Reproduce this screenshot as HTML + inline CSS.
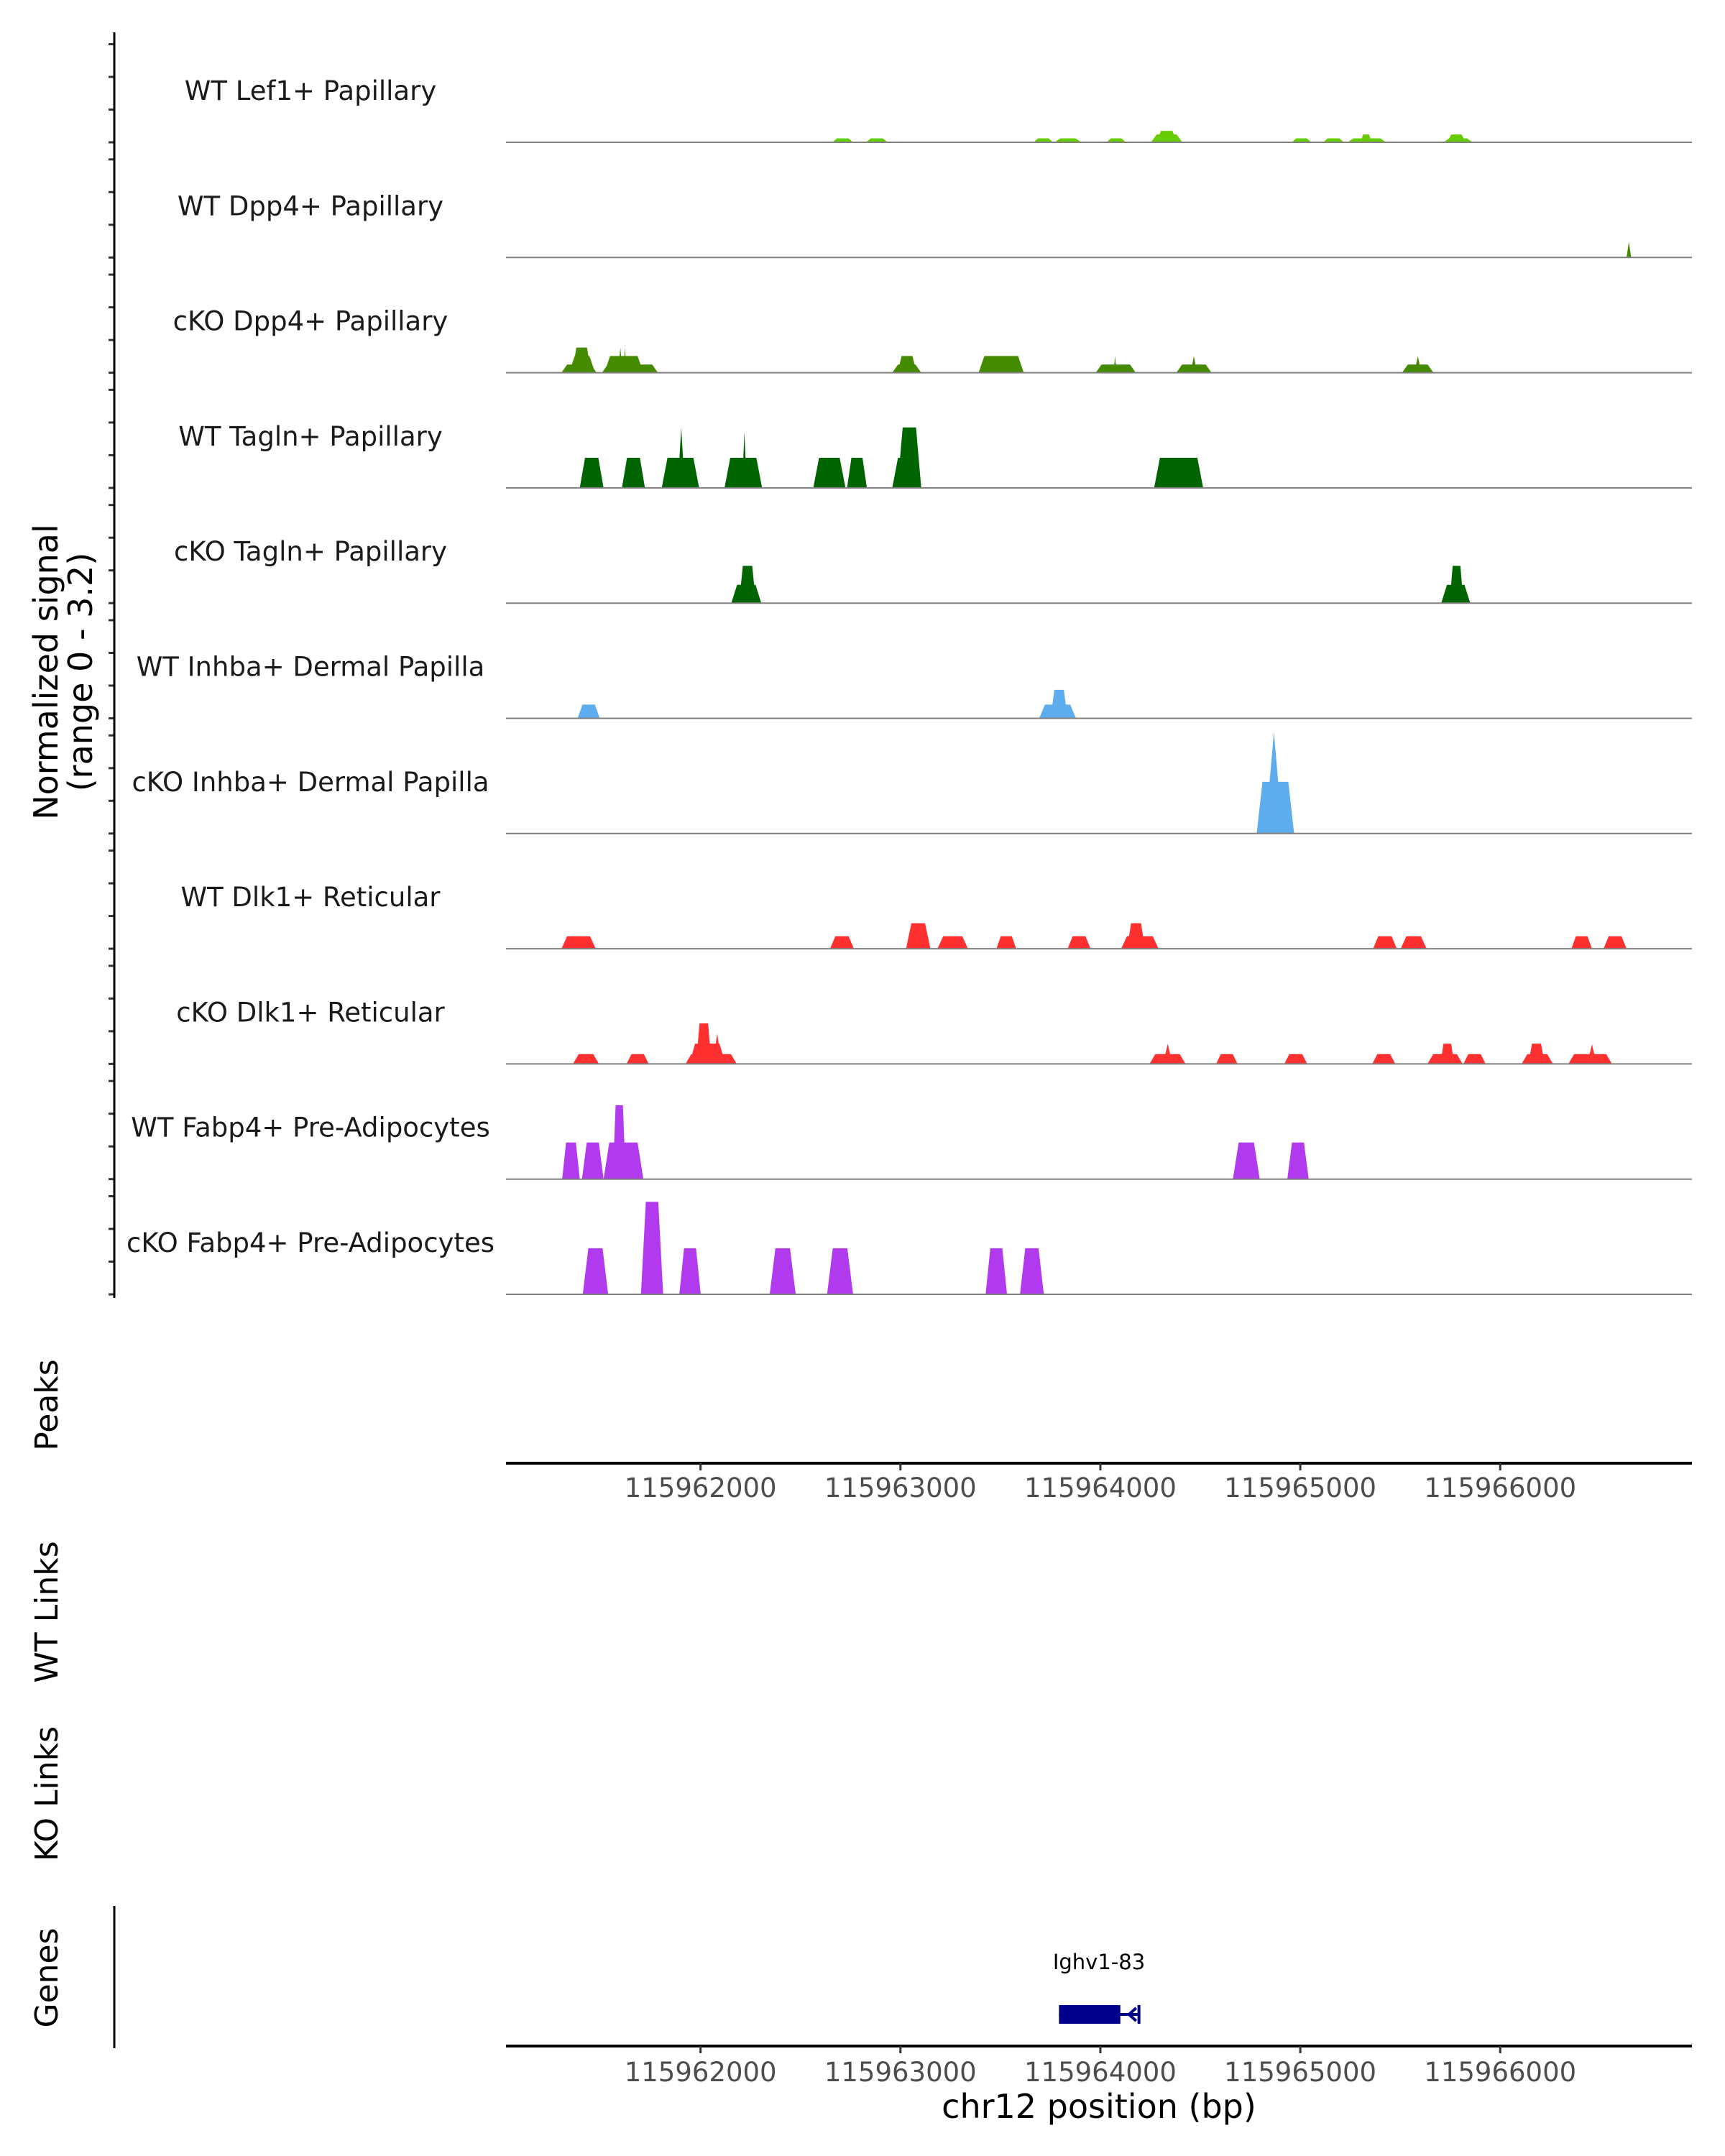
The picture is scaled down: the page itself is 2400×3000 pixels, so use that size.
<!DOCTYPE html>
<html><head><meta charset="utf-8"><style>
html,body{margin:0;padding:0;background:#fff;}
svg{display:block;font-family:"DejaVu Sans","Liberation Sans",sans-serif;}
</style></head><body>
<svg id="chart" width="2400" height="3000" viewBox="0 0 2400 3000" xmlns="http://www.w3.org/2000/svg">
<rect width="2400" height="3000" fill="#fff"/>
<g id="tracks"></g>
<g id="axes"></g>
<text transform="translate(80,935) rotate(-90)" text-anchor="middle" font-size="46" fill="#000">Normalized signal</text>
<text transform="translate(128,935) rotate(-90)" text-anchor="middle" font-size="46" fill="#000">(range 0 - 3.2)</text>
<text transform="translate(80,1955) rotate(-90)" text-anchor="middle" font-size="44" fill="#000">Peaks</text>
<text transform="translate(80,2243) rotate(-90)" text-anchor="middle" font-size="44" fill="#000">WT Links</text>
<text transform="translate(80,2496) rotate(-90)" text-anchor="middle" font-size="44" fill="#000">KO Links</text>
<text transform="translate(80,2752) rotate(-90)" text-anchor="middle" font-size="44" fill="#000">Genes</text>
<line x1="159" y1="2652" x2="159" y2="2850" stroke="#000" stroke-width="3"/>
<text x="1529" y="2947" text-anchor="middle" font-size="46" fill="#000">chr12 position (bp)</text>
<g id="gene"></g>
</svg>
<script>
const regionBase = 115961000;
const domainStart = 27, domainEnd = 5959;
const trackNames = ["WT Lef1+ Papillary","WT Dpp4+ Papillary","cKO Dpp4+ Papillary","WT Tagln+ Papillary","cKO Tagln+ Papillary","WT Inhba+ Dermal Papilla","cKO Inhba+ Dermal Papilla","WT Dlk1+ Reticular","cKO Dlk1+ Reticular","WT Fabp4+ Pre-Adipocytes","cKO Fabp4+ Pre-Adipocytes"];
const trackColors = ["#66cc00","#458b00","#458b00","#006400","#006400","#5eadee","#5eadee","#ff3030","#ff3030","#b23aee","#b23aee"];
const xTickValues = [115962000,115963000,115964000,115965000,115966000];
const yTickValues = [0,1,2,3];
// peaks: [startOffset, endOffset, value]
const lef1WT = [[1660,1763,0.12],[1828,1936,0.12],[2667,2763,0.12],[2771,2905,0.12],[3031,3127,0.12],[3253,3410,0.24],[3280,3383,0.35],[3958,4054,0.12],[4115,4218,0.12],[4237,4429,0.12],[4302,4356,0.24],[4716,4862,0.12],[4735,4827,0.24]];
const dpp4WT = [[5632,5655,0.48]];
const dpp4KO = [[304,480,0.25],[342,473,0.51],[358,453,0.77],[507,787,0.25],[519,714,0.51],[588,610,0.77],[614,630,0.77],[1959,2104,0.25],[1985,2081,0.51],[2391,2617,0.51],[2977,3177,0.25],[3066,3081,0.51],[3380,3556,0.25],[3452,3483,0.51],[4509,4666,0.25],[4571,4605,0.51]];
const taglnWT = [[396,515,0.92],[607,722,0.92],[806,993,0.92],[886,921,1.85],[1120,1308,0.92],[1208,1231,1.72],[1564,1725,0.92],[1733,1832,0.92],[1959,2104,0.92],[1985,2104,1.85],[3269,3514,0.92]];
const taglnKO = [[1154,1304,0.56],[1193,1277,1.14],[4705,4850,0.56],[4747,4816,1.14]];
const inhbaWT = [[385,496,0.42],[2694,2878,0.42],[2751,2836,0.87]];
const inhbaKO = [[3782,3969,1.58],[3824,3912,3.1]];
const dlk1WT = [[304,476,0.38],[1648,1767,0.38],[2028,2150,0.78],[2185,2338,0.38],[2480,2579,0.38],[2836,2951,0.38],[3104,3291,0.38],[3134,3223,0.78],[4364,4483,0.38],[4502,4632,0.38],[5356,5459,0.38],[5517,5632,0.38]];
const dlk1KO = [[362,492,0.3],[630,741,0.3],[925,1181,0.3],[944,1124,0.62],[978,1055,1.24],[1062,1105,0.93],[3246,3426,0.3],[3314,3360,0.62],[3579,3686,0.3],[3920,4035,0.3],[4360,4475,0.3],[4636,4812,0.3],[4701,4770,0.62],[4816,4927,0.3],[5107,5264,0.3],[5141,5222,0.62],[5341,5559,0.3],[5436,5482,0.6]];
const fabp4WT = [[308,396,1.12],[407,515,1.12],[515,714,1.12],[561,626,2.26],[3663,3797,1.12],[3935,4042,1.12]];
const fabp4KO = [[411,538,1.41],[702,813,2.83],[894,1001,1.41],[1346,1476,1.41],[1633,1763,1.41],[2426,2533,1.41],[2598,2717,1.41]];
const trackPeaks = [lef1WT,dpp4WT,dpp4KO,taglnWT,taglnKO,inhbaWT,inhbaKO,dlk1WT,dlk1KO,fabp4WT,fabp4KO];
const geneName = "Ighv1-83";
const geneStart = 2793, geneThickEnd = 3100, geneEnd = 3193;

const NS = "http://www.w3.org/2000/svg";
const plotL = 704, plotR = 2354;
const firstBase = 198, trackStep = 160.3, pxPerUnit = 45.5;
function xScale(off){ return plotL + (off - domainStart) / (domainEnd - domainStart) * (plotR - plotL); }
function yScale(i, v){ return firstBase + i*trackStep - v*pxPerUnit; }
function mk(tag, attrs, parent){ const e=document.createElementNS(NS,tag); for(const k in attrs) e.setAttribute(k,attrs[k]); parent.appendChild(e); return e; }

const tg = document.getElementById('tracks');
const ax = document.getElementById('axes');
trackNames.forEach((name,i)=>{
  const g = mk('g',{},tg);
  
  
  const base = yScale(i,0);
  const lab = mk('text',{x:432,y:base-59,'text-anchor':'middle','font-size':37,fill:'#1a1a1a'},g);
  lab.textContent = name;
  
  
  trackPeaks[i].forEach(p=>{
    const s = xScale(p[0]), e = xScale(p[1]);
    const w = e - s;
    const pointed = w < 15 || (w < 30 && p[2] > 2.5);
    const inset = pointed ? w/2 : Math.min(w*0.22, 8);
    const top = yScale(i,p[2]);
    const poly = mk('polygon',{points:`${s},${base} ${s+inset},${top} ${e-inset},${top} ${e},${base}`,fill:trackColors[i]},g);
    
    
  });
  const bl = mk('line',{x1:plotL,x2:plotR,y1:base,y2:base,stroke:'#7f7f7f','stroke-width':2},g);
  
  
  yTickValues.forEach(v=>{
    const y = yScale(i,v);
    const t = mk('line',{x1:151,x2:159,y1:y,y2:y,stroke:'#333','stroke-width':3},ax);
    
    
  });
});
const yl = mk('line',{x1:159,x2:159,y1:45,y2:1806,stroke:'#000','stroke-width':3},ax);



[[2036,2083],[2847,2896]].forEach((a,k)=>{
  const l = mk('line',{x1:plotL,x2:plotR,y1:a[0],y2:a[0],stroke:'#000','stroke-width':4},ax);
  
  
  xTickValues.forEach(v=>{
    const x = xScale(v - regionBase);
    const t = mk('line',{x1:x,x2:x,y1:a[0],y2:a[0]+10,stroke:'#333','stroke-width':3},ax);
    
    
    const tl = mk('text',{x:x,y:a[1],'text-anchor':'middle','font-size':37,fill:'#4d4d4d'},ax);
    tl.textContent = String(v);
    
    
  });
});

const gg = document.getElementById('gene');
const gs = xScale(geneStart), gt = xScale(geneThickEnd), ge = xScale(geneEnd);
const gl = mk('line',{x1:gs,x2:ge,y1:2803,y2:2803,stroke:'#00008b','stroke-width':4},gg);


const gb = mk('rect',{x:gs,y:2790,width:gt-gs,height:26,fill:'#00008b'},gg);


const gend = mk('line',{x1:ge,x2:ge,y1:2790,y2:2816,stroke:'#00008b','stroke-width':4},gg);


const ga = mk('polyline',{points:`${gt+22},2794 ${gt+12},2803 ${gt+22},2812`,fill:'none',stroke:'#00008b','stroke-width':4},gg);


const gn = mk('text',{x:(gs+ge)/2,y:2740,'text-anchor':'middle','font-size':29,fill:'#000'},gg);
gn.textContent = geneName;


</script>
</body></html>
